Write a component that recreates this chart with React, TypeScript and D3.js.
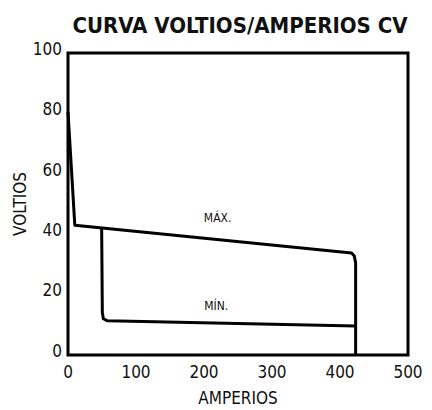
import React, { useEffect, useRef } from "react";
import * as d3 from "d3";

// chart values
const title = "CURVA VOLTIOS/AMPERIOS CV";
const xLabel = "AMPERIOS";
const yLabel = "VOLTIOS";
const xTicks = [0, 100, 200, 300, 400, 500];
const yTicks = [0, 20, 40, 60, 80, 100];

const maxAmps = [0, 10, 417, 421, 423, 423];
const maxVolts = [80.5, 43, 33.8, 32.8, 30.5, 0];
const minAmps = [49.5, 50.5, 52, 58, 423];
const minVolts = [42, 14, 12, 11.3, 9.6];

const maxLabel = { text: "MÁX.", amps: 220, volts: 44 };
const minLabel = { text: "MÍN.", amps: 218, volts: 15 };

const FONT = "'Liberation Sans Narrow', 'DejaVu Sans Condensed', sans-serif";

export default function App() {
  const ref = useRef<SVGSVGElement>(null);

  useEffect(() => {
    const svg = d3.select(ref.current);
    svg.selectAll("*").remove();

    const margin = { top: 53, right: 24, bottom: 55, left: 68 };
    const W = 432, H = 410;
    const w = W - margin.left - margin.right;
    const h = H - margin.top - margin.bottom;

    const x = d3.scaleLinear().domain([0, 500]).range([margin.left, margin.left + w]);
    const y = d3.scaleLinear().domain([0, 100]).range([margin.top + h, margin.top]);

    // title
    svg.append("text")
      .attr("x", 240)
      .attr("y", 33)
      .attr("text-anchor", "middle")
      .attr("font-family", FONT)
      .attr("font-weight", "bold")
      .attr("font-size", 22)
      .attr("fill", "#111")
      .text(title);

    // frame
    svg.append("rect")
      .attr("x", x(0))
      .attr("y", y(100))
      .attr("width", x(500) - x(0))
      .attr("height", y(0) - y(100))
      .attr("fill", "none")
      .attr("stroke", "#000")
      .attr("stroke-width", 3);

    // y tick labels
    svg.selectAll(".ytick")
      .data(yTicks)
      .join("text")
      .attr("class", "ytick")
      .attr("x", x(0) - 6)
      .attr("y", (d) => y(d))
      .attr("dy", "0.1em")
      .attr("text-anchor", "end")
      .attr("font-family", FONT)
      .attr("font-size", 17)
      .attr("fill", "#111")
      .text((d) => d);

    // x tick labels
    svg.selectAll(".xtick")
      .data(xTicks)
      .join("text")
      .attr("class", "xtick")
      .attr("x", (d) => x(d))
      .attr("y", y(0) + 23)
      .attr("text-anchor", "middle")
      .attr("font-family", FONT)
      .attr("font-size", 17)
      .attr("fill", "#111")
      .text((d) => d);

    // axis titles
    svg.append("text")
      .attr("x", x(250))
      .attr("y", 404)
      .attr("text-anchor", "middle")
      .attr("font-family", FONT)
      .attr("font-size", 17)
      .attr("fill", "#111")
      .text(xLabel);

    svg.append("text")
      .attr("transform", `translate(26, ${y(50)}) rotate(-90)`)
      .attr("text-anchor", "middle")
      .attr("font-family", FONT)
      .attr("font-size", 17)
      .attr("fill", "#111")
      .text(yLabel);

    const maxPts: [number, number][] = maxAmps.map((a, i) => [a, maxVolts[i]]);
    const minPts: [number, number][] = minAmps.map((a, i) => [a, minVolts[i]]);
    const path = d3.line<[number, number]>().x((d) => x(d[0])).y((d) => y(d[1]));

    [maxPts, minPts].forEach((pts) => {
      svg.append("path")
        .attr("d", path(pts))
        .attr("fill", "none")
        .attr("stroke", "#000")
        .attr("stroke-width", 3)
        .attr("stroke-linejoin", "round");
    });

    [maxLabel, minLabel].forEach((l) => {
      svg.append("text")
        .attr("x", x(l.amps))
        .attr("y", y(l.volts))
        .attr("text-anchor", "middle")
        .attr("font-family", FONT)
        .attr("font-size", 12)
        .attr("fill", "#111")
        .text(l.text);
    });
  }, []);

  return <svg ref={ref} width={432} height={410} style={{ display: "block", position: "absolute", left: 0, top: 0 }} />;
}
